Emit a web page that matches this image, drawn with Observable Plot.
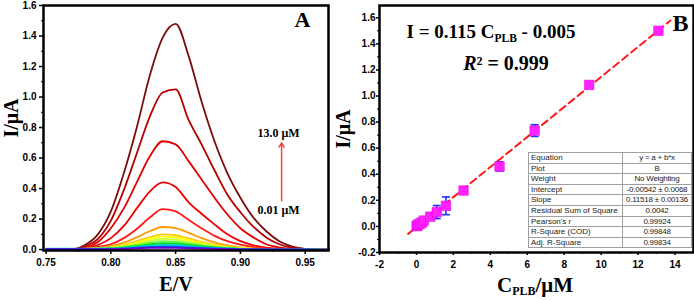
<!DOCTYPE html>
<html><head><meta charset="utf-8">
<script src="https://cdn.jsdelivr.net/npm/d3@7"></script>
<script src="https://cdn.jsdelivr.net/npm/@observablehq/plot@0.6"></script>
<style>
body{margin:0;background:#fff;}
#wrap{position:relative;width:694px;height:300px;overflow:hidden;background:#fff;}
#pa{position:absolute;left:0;top:0;}
#pb{position:absolute;left:330px;top:0;}
#tbl{position:absolute;left:528px;top:152px;width:159px;table-layout:fixed;border-collapse:collapse;font-family:"Liberation Sans",Arial,sans-serif;font-size:8px;background:#fff;border:1px solid #777;}
#tbl td{border:1px solid #a0a0a0;padding:0 1px;height:9.6px;line-height:9.6px;white-space:nowrap;overflow:visible;color:#222;}
#tbl td.v{text-align:center;width:66px;letter-spacing:-0.25px;}
#tbl td.k{width:90px;padding-left:2px;}
</style></head>
<body><div id="wrap"><div id="pa"></div><div id="pb"></div><table id="tbl"></table></div>
<script>
// ---------- Panel A: DPV curves ----------
const eGrid = [0.75,0.76,0.77,0.78,0.79,0.80,0.81,0.82,0.83,0.84,0.85,0.86,0.87,0.88,0.89,0.90,0.91,0.92,0.93,0.94,0.95,0.96,0.97];
const c1  = [0.003,0.002,0.003,0.03,0.10,0.25,0.50,0.80,1.14,1.39,1.48,1.27,0.97,0.71,0.50,0.34,0.21,0.12,0.055,0.02,0.005,0.001,0.0];
const c2  = [0.003,0.002,0.002,0.02,0.07,0.19,0.39,0.63,0.87,1.03,1.05,0.85,0.69,0.52,0.36,0.245,0.15,0.08,0.035,0.012,0.004,0.001,0.0];
const c3  = [0.003,0.002,0.002,0.012,0.05,0.14,0.27,0.44,0.61,0.71,0.69,0.58,0.46,0.34,0.23,0.14,0.08,0.035,0.015,0.005,0.002,0.001,0.0];
const c4  = [0.003,0.002,0.002,0.008,0.03,0.075,0.155,0.27,0.38,0.44,0.41,0.31,0.235,0.165,0.10,0.055,0.028,0.012,0.005,0.002,0.001,0.0,0.0];
const c5  = [0.003,0.002,0.002,0.006,0.018,0.035,0.075,0.135,0.21,0.265,0.25,0.195,0.14,0.09,0.055,0.032,0.016,0.007,0.003,0.001,0.001,0.0,0.0];
const c6  = [0.003,0.002,0.002,0.004,0.01,0.022,0.045,0.08,0.12,0.148,0.14,0.11,0.075,0.048,0.028,0.015,0.008,0.004,0.002,0.001,0.001,0.0,0.0];
const c7  = [0.003,0.003,0.003,0.005,0.008,0.016,0.031,0.055,0.082,0.10,0.094,0.073,0.05,0.032,0.019,0.01,0.005,0.003,0.002,0.001,0.001,0.0,0.0];
const c8  = [0.003,0.003,0.003,0.004,0.007,0.013,0.026,0.046,0.069,0.085,0.08,0.062,0.043,0.027,0.016,0.009,0.005,0.003,0.002,0.001,0.001,0.0,0.0];
const c9  = [0.004,0.004,0.004,0.005,0.007,0.011,0.021,0.038,0.057,0.07,0.066,0.051,0.035,0.022,0.013,0.007,0.004,0.003,0.002,0.001,0.001,0.0,0.0];
const c10 = [0.004,0.004,0.004,0.005,0.006,0.009,0.017,0.03,0.045,0.055,0.052,0.04,0.028,0.018,0.011,0.006,0.004,0.003,0.002,0.001,0.001,0.0,0.0];
const c11 = [0.005,0.005,0.005,0.005,0.006,0.008,0.013,0.023,0.034,0.042,0.04,0.031,0.022,0.014,0.009,0.005,0.003,0.002,0.002,0.001,0.001,0.0,0.0];
const c12 = [0.006,0.006,0.006,0.006,0.006,0.007,0.01,0.017,0.025,0.03,0.029,0.023,0.016,0.011,0.007,0.004,0.003,0.002,0.002,0.001,0.001,0.0,0.0];
const c13 = [0.004,0.004,0.004,0.004,0.004,0.005,0.007,0.012,0.017,0.02,0.019,0.015,0.011,0.007,0.005,0.003,0.002,0.002,0.001,0.001,0.001,0.0,0.0];
const c14 = [0.002,0.002,0.002,0.002,0.002,0.003,0.005,0.008,0.011,0.012,0.011,0.009,0.007,0.005,0.003,0.002,0.002,0.001,0.001,0.001,0.0,0.0,0.0];
const curvesA = [c1,c2,c3,c4,c5,c6,c7,c8,c9,c10,c11,c12,c13,c14];
const curveColors = ["#7a0c0c","#b30000","#e00000","#f00000","#ff1a1a","#ff9900","#ffcc00","#ffff00","#ccff33","#66ff33","#00dd22","#00cccc","#0055ff","#6a00cc"];
const aXTicks = [0.75,0.80,0.85,0.90,0.95];
const aXMinor = [0.775,0.825,0.875,0.925];
const aYTicks = [0,0.2,0.4,0.6,0.8,1.0,1.2,1.4,1.6];
const aYMinor = [0.1,0.3,0.5,0.7,0.9,1.1,1.3,1.5];
const arrowE = [0.9318];
const arrowFrom = [0.32];
const arrowTo = [0.70];
const arrowLabels = ["13.0 μM","0.01 μM"];
const arrowLabelI = [0.765,0.258];

// ---------- Panel B: calibration ----------
const concB    = [0.01,0.05,0.1,0.2,0.3,0.4,0.75,1.1,1.6,2.55,4.5,6.4,9.35,13.1];
const currentB = [0.002,0.006,0.015,0.022,0.03,0.045,0.075,0.11,0.158,0.275,0.46,0.735,1.085,1.50];
const errB     = [0.012,0.012,0.015,0.015,0.02,0.02,0.028,0.05,0.068,0.022,0.035,0.045,0.025,0.008];
const fitIntercept = -0.00542;
const fitSlope = 0.11518;
const fitX = [-0.45,13.75];
const bXTicks = [-2,0,2,4,6,8,10,12,14];
const bXMinor = [-1,1,3,5,7,9,11,13];
const bYTicks = [-0.2,0,0.2,0.4,0.6,0.8,1.0,1.2,1.4,1.6];
const bYMinor = [-0.1,0.1,0.3,0.5,0.7,0.9,1.1,1.3,1.5];
const tableKeys = ["Equation","Plot","Weight","Intercept","Slope","Residual Sum of Square","Pearson's r","R-Square (COD)","Adj. R-Square"];
const tableVals = ["y = a + b*x","B","No Weighting","-0.00542 ± 0.0068","0.11518 ± 0.00136","0.0042","0.99924","0.99848","0.99834"];

const sans = "'Liberation Sans', Arial, sans-serif";
const serif = "'Liberation Serif', 'Times New Roman', serif";
const baseStyle = {fontFamily: sans, fontSize: "10px", fontWeight: "bold", color: "black", background: "white", overflow: "visible"};

const fmt1 = d => d.toFixed(1);

const lineMarks = curvesA.map((vals, i) =>
  Plot.line(vals.map((v, j) => ({E: eGrid[j], I: v})), {x: "E", y: "I", stroke: curveColors[i], strokeWidth: 1.8, curve: "monotone-x"})
);

const chartA = Plot.plot({
  width: 330, height: 300,
  marginLeft: 43, marginRight: 2, marginTop: 5, marginBottom: 50,
  style: baseStyle,
  x: {domain: [0.748, 0.968]},
  y: {domain: [-0.006, 1.6]},
  marks: [
    Plot.axisY(aYTicks, {tickSize: 4, tickPadding: 3, tickFormat: fmt1, label: null, strokeWidth: 1.5}),
    Plot.axisY(aYMinor, {tickSize: 2, tickFormat: () => "", label: null}),
    Plot.axisX(aXTicks, {tickSize: 4, tickPadding: 4, tickFormat: d => d.toFixed(2), label: null, strokeWidth: 1.5}),
    Plot.axisX(aXMinor, {tickSize: 2, tickFormat: () => "", label: null}),
    ...lineMarks,
    Plot.frame({stroke: "black", strokeWidth: 2.5}),
    Plot.arrow(arrowE.map((e, i) => ({e, a: arrowFrom[i], b: arrowTo[i]})), {x1: "e", y1: "a", x2: "e", y2: "b", stroke: "#ff4040", strokeWidth: 1.5, headLength: 5}),
    Plot.text(arrowLabels.map((t, i) => ({t, i: arrowLabelI[i]})), {x: () => arrowE[0], y: "i", text: "t", fontFamily: serif, fontSize: 12, fontWeight: "bold", dx: -3}),
    Plot.text(["A"], {frameAnchor: "top-right", dx: -26, dy: 14, fontFamily: serif, fontSize: 22, fontWeight: "bold", textAnchor: "middle", lineAnchor: "middle"}),
    Plot.text(["E/V"], {frameAnchor: "bottom", dx: -10, dy: 34, fontFamily: serif, fontSize: 20, fontWeight: "bold", textAnchor: "middle", lineAnchor: "middle"}),
    Plot.text(["I/μA"], {frameAnchor: "left", dx: -32, dy: -10, rotate: -90, fontFamily: serif, fontSize: 20, fontWeight: "bold", textAnchor: "middle", lineAnchor: "middle"})
  ]
});
document.getElementById("pa").appendChild(chartA);

const bData = concB.map((c, i) => ({c, I: currentB[i], lo: currentB[i] - errB[i], hi: currentB[i] + errB[i]}));
const fitData = fitX.map(x => ({x, y: fitIntercept + fitSlope * x}));
const capSymbol = {draw(ctx) { ctx.moveTo(-4, 0); ctx.lineTo(4, 0); }};

const chartB = Plot.plot({
  width: 364, height: 300,
  marginLeft: 49, marginRight: 1, marginTop: 5, marginBottom: 48,
  style: baseStyle,
  x: {domain: [-2, 15]},
  y: {domain: [-0.2, 1.694]},
  marks: [
    Plot.axisY(bYTicks, {tickSize: 3, tickPadding: 1, tickFormat: fmt1, label: null, strokeWidth: 1.5}),
    Plot.axisY(bYMinor, {tickSize: 2, tickFormat: () => "", label: null}),
    Plot.axisX(bXTicks, {tickSize: 3, tickPadding: 5, tickFormat: d => String(d), label: null, strokeWidth: 1.5}),
    Plot.axisX(bXMinor, {tickSize: 2, tickFormat: () => "", label: null}),
    Plot.line(fitData, {x: "x", y: "y", stroke: "#ff1a1a", strokeWidth: 2, strokeDasharray: "7,4.5"}),
    Plot.ruleX(bData, {x: "c", y1: "lo", y2: "hi", stroke: "#2b2bff", strokeWidth: 1.6}),
    Plot.dot(bData, {x: "c", y: "lo", symbol: capSymbol, stroke: "#2b2bff", strokeWidth: 1.6}),
    Plot.dot(bData, {x: "c", y: "hi", symbol: capSymbol, stroke: "#2b2bff", strokeWidth: 1.6}),
    Plot.dot(bData, {x: "c", y: "I", symbol: "square", r: 5.4, fill: "#ff22ff", stroke: "#e000e0", strokeWidth: 0.5}),
    Plot.frame({stroke: "black", strokeWidth: 2.5}),
    Plot.text(["B"], {frameAnchor: "top-right", dx: -13, dy: 18, fontFamily: serif, fontSize: 24, fontWeight: "bold", textAnchor: "middle", lineAnchor: "middle"}),
    Plot.text(["I/μA"], {frameAnchor: "left", dx: -36, dy: 0, rotate: -90, fontFamily: serif, fontSize: 20, fontWeight: "bold", textAnchor: "middle", lineAnchor: "middle"})
  ]
});
document.getElementById("pb").appendChild(chartB);

// Equation, R² and axis title with subscripts
const svgB = d3.select(chartB);
const eq = svgB.append("text").attr("x", 161).attr("y", 38).attr("text-anchor", "middle")
  .attr("font-family", serif).attr("font-weight", "bold").attr("font-size", 19).attr("fill", "black");
eq.append("tspan").text("I = 0.115 C");
eq.append("tspan").attr("font-size", 11.5).attr("dy", 4).text("PLB");
eq.append("tspan").attr("dy", -4).text(" - 0.005");
const r2 = svgB.append("text").attr("x", 176).attr("y", 70).attr("text-anchor", "middle")
  .attr("font-family", serif).attr("font-weight", "bold").attr("font-size", 20).attr("fill", "black");
r2.append("tspan").attr("font-style", "italic").text("R");
r2.append("tspan").text("² = 0.999");
const xt = svgB.append("text").attr("x", 205).attr("y", 292).attr("text-anchor", "middle")
  .attr("font-family", serif).attr("font-weight", "bold").attr("font-size", 21).attr("fill", "black");
xt.append("tspan").text("C");
xt.append("tspan").attr("font-size", 12).attr("dy", 3).text("PLB");
xt.append("tspan").attr("dy", -3).text("/μM");

// Fit statistics table
const tbl = d3.select("#tbl");
tableKeys.forEach((k, i) => {
  const tr = tbl.append("tr");
  tr.append("td").attr("class", "k").text(k);
  tr.append("td").attr("class", "v").text(tableVals[i]);
});
</script>
</body></html>
